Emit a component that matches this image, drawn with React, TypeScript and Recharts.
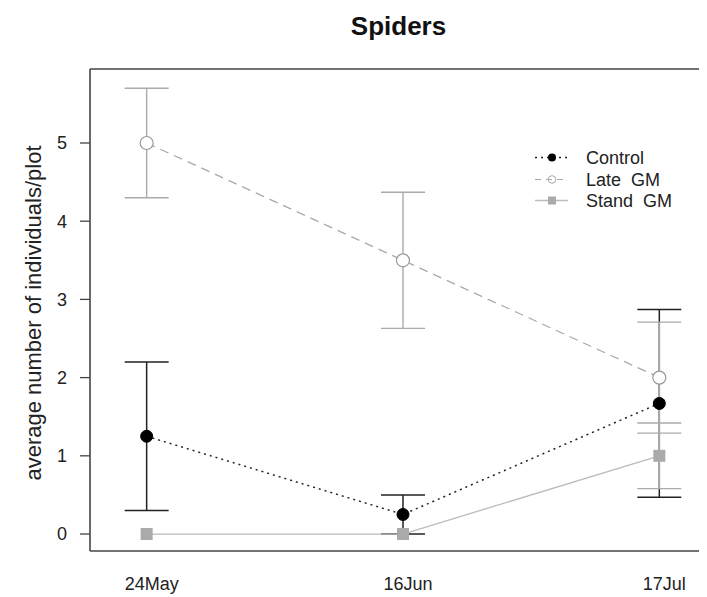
import React from 'react';
import { LineChart, Line, XAxis, YAxis, ErrorBar, ReferenceLine, Legend } from 'recharts';

const categories = ['24May', '16Jun', '17Jul'];
const controlMean = [1.25, 0.25, 1.67];
const controlErr = [0.95, 0.25, 1.2];
const lateMean = [5, 3.5, 2];
const lateErr = [0.7, 0.87, 0.71];
const standMean = [0, 0, 1];
const standErr: (number | null)[] = [null, null, 0.42];
const seriesNames = ['Control', 'Late  GM', 'Stand  GM'];
const yTicks = [0, 1, 2, 3, 4, 5];
const xTicks = [0, 1, 2];
const Y_DOMAIN: [number, number] = [-0.217, 5.946];
const X_DOMAIN: [number, number] = [-0.221, 2.186];

const data = categories.map((c, i) => ({
  x: i,
  label: c,
  control: controlMean[i],
  controlErr: controlErr[i],
  late: lateMean[i],
  lateErr: lateErr[i],
  stand: standMean[i],
  standErr: standErr[i],
}));

const FONT = '"Liberation Sans", Arial, Helvetica, sans-serif';
const AXIS = '#444';
const TEXT = '#222';
const LATE = '#aaaaaa';
const STAND = '#bbbbbb';
const STAND_FILL = '#aaaaaa';

const ControlDot = (p: any) => (
  <circle key={`c${p.index}`} cx={p.cx} cy={p.cy} r={6} fill="#000" stroke="#000" />
);
const LateDot = (p: any) => (
  <circle key={`l${p.index}`} cx={p.cx} cy={p.cy} r={6.5} fill="#fff" stroke="#999" strokeWidth={1.2} />
);
const StandDot = (p: any) => (
  <rect key={`s${p.index}`} x={p.cx - 6} y={p.cy - 6} width={12} height={12} fill={STAND_FILL} />
);

const YLabel = (p: any) => {
  const vb = p.viewBox || { x: 0, y: 61, width: 82, height: 482 };
  const cx = 25;
  const cy = vb.y + vb.height / 2 + 3;
  return (
    <text
      x={cx}
      y={cy}
      transform={`rotate(-90, ${cx}, ${cy})`}
      textAnchor="middle"
      dominantBaseline="central"
      fontFamily={FONT}
      fontSize={22}
      fill={TEXT}
    >
      average number of individuals/plot
    </text>
  );
};

const renderLegend = () => {
  const rows = [9.5, 31.5, 52.5];
  return (
    <svg width={180} height={75} style={{ display: 'block', overflow: 'visible' }}>
      {/* Control */}
      <line x1={7} x2={40} y1={rows[0]} y2={rows[0]} stroke="#222" strokeWidth={1.5} strokeDasharray="2 4" />
      <circle cx={24} cy={rows[0]} r={4} fill="#000" />
      {/* Late GM */}
      <circle cx={24} cy={rows[1]} r={3.8} fill="#fff" stroke="#aaa" strokeWidth={1} />
      <line x1={7} x2={40} y1={rows[1]} y2={rows[1]} stroke={LATE} strokeWidth={1.2} strokeDasharray="6 5" />
      {/* Stand GM */}
      <line x1={7} x2={40} y1={rows[2]} y2={rows[2]} stroke={STAND} strokeWidth={1.3} />
      <rect x={20} y={rows[2] - 4} width={8} height={8} fill={STAND_FILL} />
      {seriesNames.map((n, i) => (
        <text
          key={n}
          x={58}
          y={rows[i] + 6.5}
          fontFamily={FONT}
          fontSize={18}
          fill={TEXT}
          style={{ whiteSpace: 'pre' }}
        >
          {n}
        </text>
      ))}
    </svg>
  );
};

export default function App() {
  return (
    <div style={{ position: 'relative', width: 699, height: 589 }}>
      <div
        style={{
          position: 'absolute',
          left: 290.5,
          top: 5,
          width: 200,
          textAlign: 'center',
          fontFamily: FONT,
          fontWeight: 'bold',
          fontSize: 26,
          lineHeight: '26px',
          color: '#111',
        }}
      >
        Spiders
      </div>
      <LineChart
        width={699}
        height={589}
        data={data}
        margin={{ top: 61, right: 0, bottom: 0, left: 0 }}
      >
        <XAxis
          dataKey="x"
          type="number"
          domain={X_DOMAIN}
          allowDataOverflow
          ticks={xTicks}
          tickFormatter={(v: number) => categories[v]}
          height={46}
          tickLine={false}
          tickSize={0}
          tickMargin={26}
          axisLine={{ stroke: AXIS, strokeWidth: 1.6 }}
          tick={{ fontFamily: FONT, fontSize: 18, fill: TEXT, dx: 5 }}
          interval={0}
        />
        <YAxis
          type="number"
          domain={Y_DOMAIN}
          allowDataOverflow
          ticks={yTicks}
          width={82}
          tickSize={10}
          tickMargin={13}
          tickLine={{ stroke: AXIS, strokeWidth: 1.3 }}
          axisLine={{ stroke: AXIS, strokeWidth: 1.6 }}
          tick={{ fontFamily: FONT, fontSize: 18, fill: TEXT }}
          label={{ content: YLabel }}
          interval={0}
        />
        <ReferenceLine y={Y_DOMAIN[1]} stroke={AXIS} strokeWidth={1.6} ifOverflow="visible" />
        <Legend
          layout="horizontal"
          verticalAlign="middle"
          align="center"
          content={renderLegend}
          wrapperStyle={{ position: 'absolute', left: 520, top: 140, width: 180, height: 75 }}
        />
        <Line
          dataKey="control"
          name={seriesNames[0]}
          stroke="#222"
          strokeWidth={1.5}
          strokeDasharray="2 4"
          dot={ControlDot}
          activeDot={false}
          isAnimationActive={false}
        >
          <ErrorBar dataKey="controlErr" width={22} stroke="#222" strokeWidth={1.5} isAnimationActive={false} />
        </Line>
        <Line
          dataKey="late"
          name={seriesNames[1]}
          stroke={LATE}
          strokeWidth={1.3}
          strokeDasharray="9 6"
          dot={LateDot}
          activeDot={false}
          isAnimationActive={false}
        >
          <ErrorBar dataKey="lateErr" width={22} stroke="#aaa" strokeWidth={1.4} isAnimationActive={false} />
        </Line>
        <Line
          dataKey="stand"
          name={seriesNames[2]}
          stroke={STAND}
          strokeWidth={1.3}
          dot={StandDot}
          activeDot={false}
          isAnimationActive={false}
        >
          <ErrorBar dataKey="standErr" width={22} stroke="#aaa" strokeWidth={1.4} isAnimationActive={false} />
        </Line>
      </LineChart>
    </div>
  );
}
